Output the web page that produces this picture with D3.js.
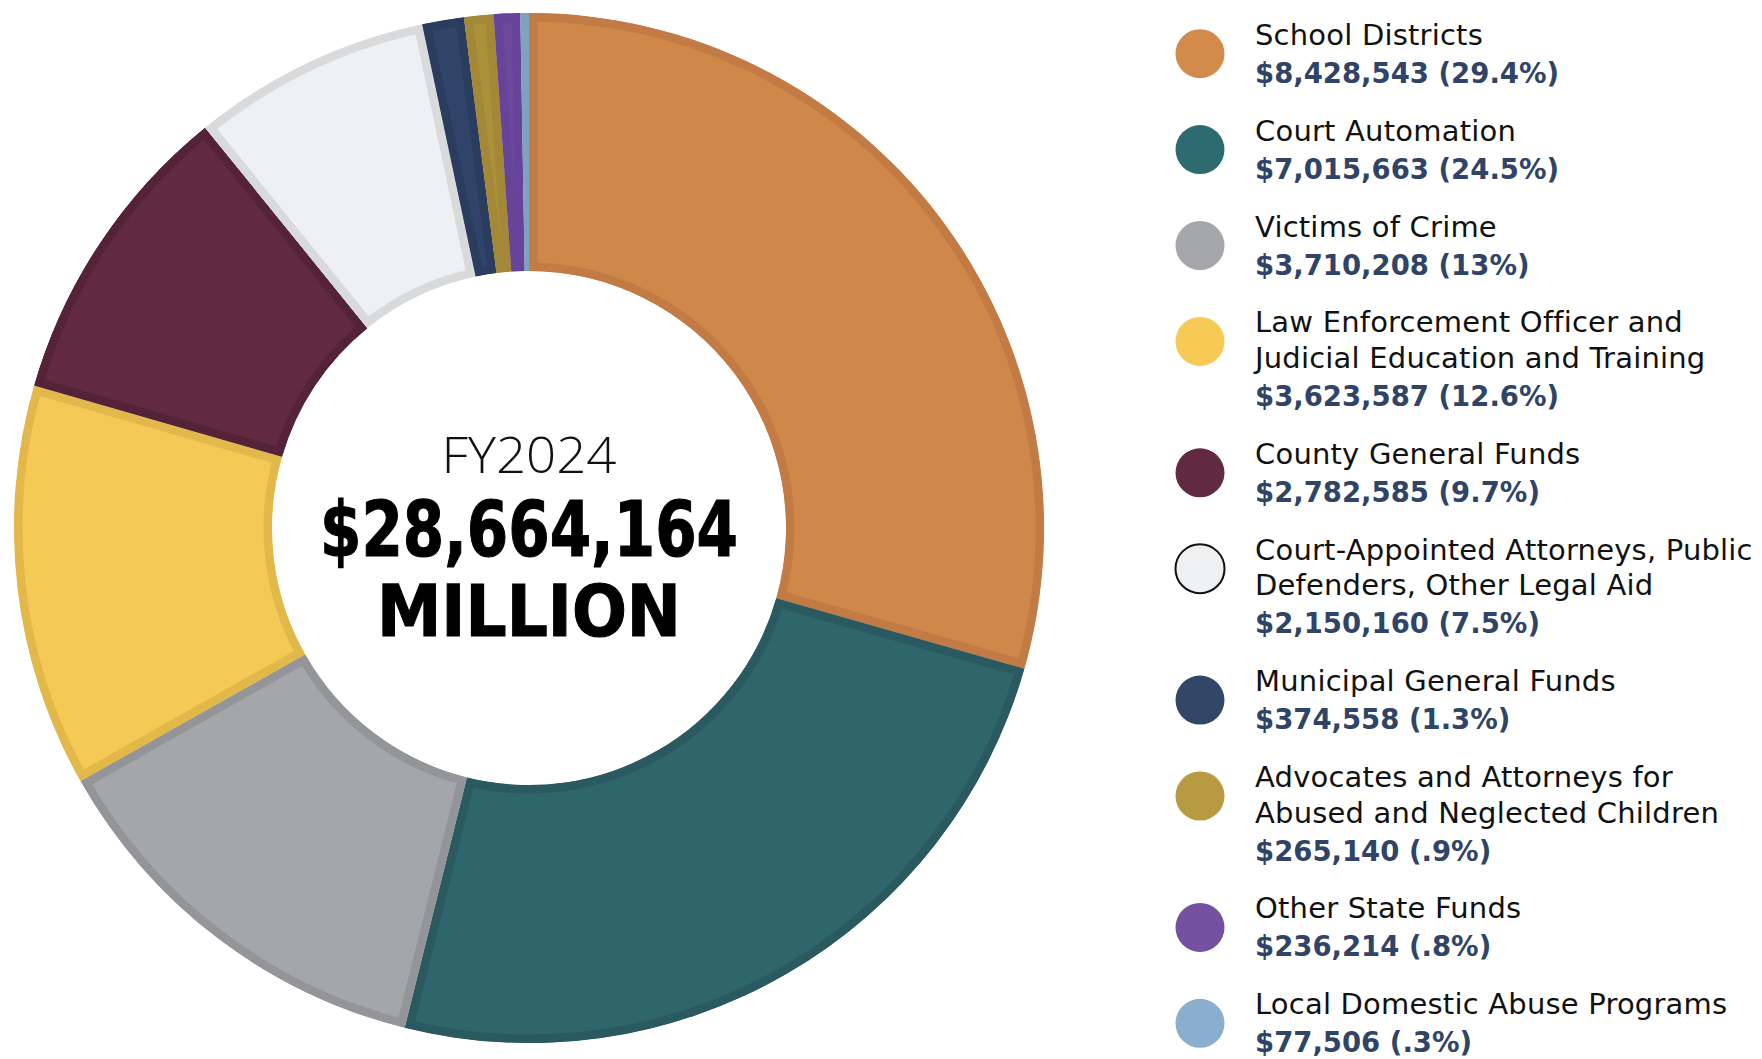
<!DOCTYPE html>
<html>
<head>
<meta charset="utf-8">
<script src="https://cdn.jsdelivr.net/npm/d3@7"></script>
<style>
  html, body { margin: 0; padding: 0; background: #ffffff; }
  svg { display: block; }
</style>
</head>
<body>
<svg id="chart" width="1762" height="1059"></svg>
<script>
// ---------- DATA ----------
const categories = [
  ["School Districts"],
  ["Court Automation"],
  ["Victims of Crime"],
  ["Law Enforcement Officer and", "Judicial Education and Training"],
  ["County General Funds"],
  ["Court-Appointed Attorneys, Public", "Defenders, Other Legal Aid"],
  ["Municipal General Funds"],
  ["Advocates and Attorneys for", "Abused and Neglected Children"],
  ["Other State Funds"],
  ["Local Domestic Abuse Programs"]
];
const values = [8428543, 7015663, 3710208, 3623587, 2782585, 2150160, 374558, 265140, 236214, 77506];
const pctLabels = ["29.4%", "24.5%", "13%", "12.6%", "9.7%", "7.5%", "1.3%", ".9%", ".8%", ".3%"];
const yearLabel = "FY2024";
const unitLabel = "MILLION";

// ---------- PALETTE ----------
const sliceFill   = ["#D0884A", "#2E666C", "#A5A6AA", "#F5C956", "#612A41", "#EFF0F2", "#2F4468", "#AC913B", "#6D489B", "#86A9C6"];
const sliceBorder = ["#C27B45", "#2A5A60", "#949599", "#E3B84A", "#552338", "#D9DADC", "#2B3D5E", "#A38838", "#66449A", "#7FA2BF"];
const legendFill  = ["#D38B4B", "#2E6B70", "#A6A7AB", "#F6CA55", "#612A40", "#EFF0F2", "#324668", "#B89A42", "#7550A0", "#8AAFCE"];

// ---------- LAYOUT ----------
const svg = d3.select("#chart");
const cx = 529, cy = 528, rOuter = 515, rInner = 257;

const data = categories.map((c, i) => ({ lines: c, value: values[i], pct: pctLabels[i], i }));

const pie = d3.pie().value(d => d.value).sort(null).startAngle(0).endAngle(2 * Math.PI);
const arc = d3.arc().innerRadius(rInner).outerRadius(rOuter);
const arcs = pie(data);

const defs = svg.append("defs");
const g = svg.append("g").attr("transform", `translate(${cx},${cy})`);

arcs.forEach((a, k) => {
  defs.append("clipPath").attr("id", "clip" + k)
    .append("path")
    .attr("d", arc(a));
});

g.selectAll("path.slice")
  .data(arcs)
  .join("path")
  .attr("class", "slice")
  .attr("d", arc)
  .attr("fill", d => sliceFill[d.data.i])
  .attr("stroke", d => sliceBorder[d.data.i])
  .attr("stroke-width", 17)
  .attr("stroke-linejoin", "miter")
  .attr("clip-path", (d, k) => `url(#clip${k})`);

// ---------- CENTER TEXT ----------
const total = d3.sum(values);
const fmtMoney = d3.format("$,");
g.append("text")
  .attr("x", 0).attr("y", 473 - cy)
  .attr("text-anchor", "middle")
  .attr("font-family", "'Open Sans', Lato, sans-serif")
  .attr("font-weight", 300)
  .attr("font-size", 49)
  .attr("fill", "#111")
  .attr("textLength", 175)
  .attr("lengthAdjust", "spacingAndGlyphs")
  .text(yearLabel);

g.append("text")
  .attr("x", 0).attr("y", 556 - cy)
  .attr("text-anchor", "middle")
  .attr("font-family", "'DejaVu Sans', sans-serif")
  .attr("font-weight", 700)
  .attr("font-size", 77)
  .attr("fill", "#000")
  .attr("stroke", "#000")
  .attr("stroke-width", 1.2)
  .attr("textLength", 418)
  .attr("lengthAdjust", "spacingAndGlyphs")
  .text(fmtMoney(total));

g.append("text")
  .attr("x", 0).attr("y", 636 - cy)
  .attr("text-anchor", "middle")
  .attr("font-family", "'DejaVu Sans', sans-serif")
  .attr("font-weight", 700)
  .attr("font-size", 71)
  .attr("fill", "#000")
  .attr("stroke", "#000")
  .attr("stroke-width", 1.2)
  .attr("textLength", 304)
  .attr("lengthAdjust", "spacingAndGlyphs")
  .text(unitLabel);

// ---------- LEGEND ----------
const legendX = 1200, textX = 1255;
const firstLine = 34.7, lineStep = 35.5, valueStep = 37.5, itemGap = 58.4;
const fmtInt = d3.format(",");
const legend = svg.append("g");
let y = firstLine;
data.forEach(d => {
  const item = legend.append("g");
  item.append("circle")
    .attr("cx", legendX).attr("cy", y + 19).attr("r", 24.5)
    .attr("fill", legendFill[d.i])
    .attr("stroke", d.i === 5 ? "#111" : "none")
    .attr("stroke-width", d.i === 5 ? 2 : 0);
  d.lines.forEach((ln, j) => {
    item.append("text")
      .attr("x", textX).attr("y", y + j * lineStep + 10)
      .attr("font-family", "'DejaVu Sans', sans-serif")
      .attr("font-size", 29)
      .attr("letter-spacing", 0.2)
      .attr("fill", "#111")
      .text(ln);
  });
  const vy = y + (d.lines.length - 1) * lineStep + valueStep;
  item.append("text")
    .attr("x", textX).attr("y", vy + 10.5)
    .attr("font-family", "'DejaVu Sans', sans-serif")
    .attr("font-weight", 700)
    .attr("font-size", 27.5)
    .attr("fill", "#2F4467")
    .text("$" + fmtInt(d.value) + " (" + d.pct + ")");
  y = vy + itemGap;
});
</script>
</body>
</html>
